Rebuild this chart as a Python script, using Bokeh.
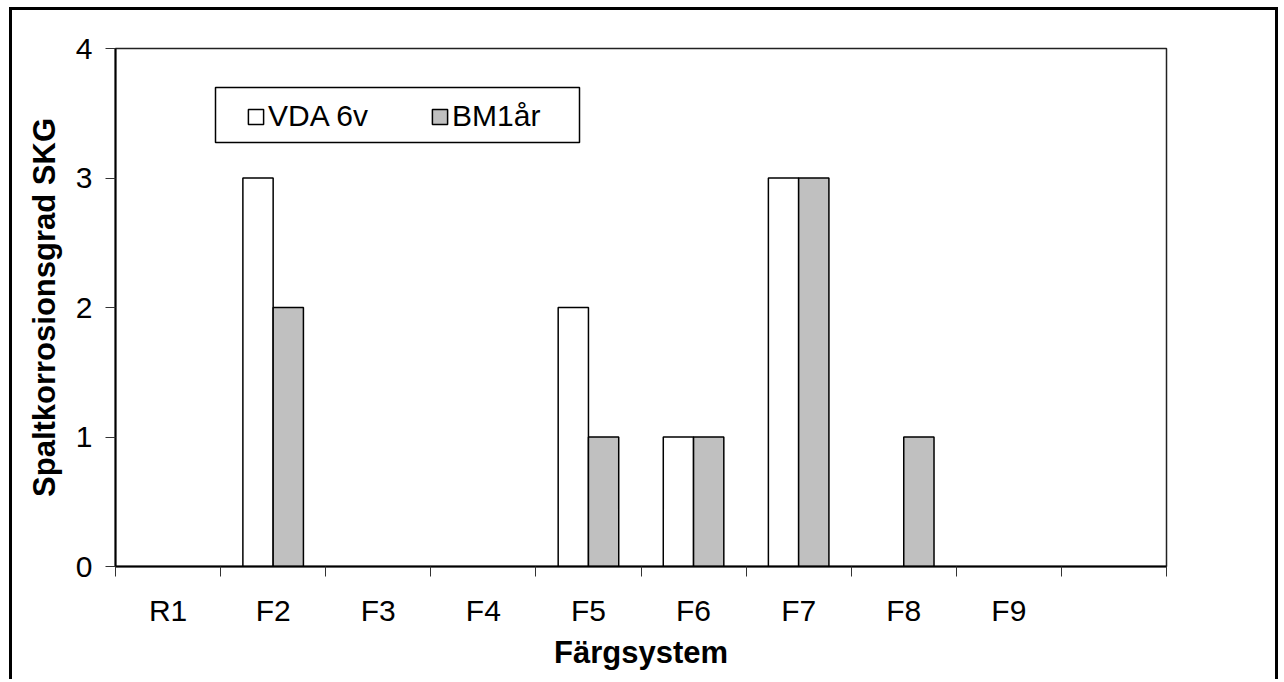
import numpy as np
from bokeh.plotting import figure
from bokeh.models import (ColumnDataSource, FixedTicker, Legend, LegendItem,
                          BoxAnnotation, Range1d, CDSView, BooleanFilter)
from bokeh.embed import file_html
from bokeh.resources import INLINE

# Paint systems and crevice-corrosion grades (SKG) for the two exposures
categories = ["R1", "F2", "F3", "F4", "F5", "F6", "F7", "F8", "F9"]
vda_6v = [0, 3, 0, 0, 2, 1, 3, 0, 0]
bm_1ar = [0, 2, 0, 0, 1, 1, 3, 1, 0]
series_names = ["VDA 6v", "BM1år"]
y_ticks = [0, 1, 2, 3, 4]
n_slots = 10          # one empty slot after F9
bar_w = 0.288         # width of one bar in slot units

FONT = "Liberation Sans"

centers = np.arange(len(categories)) + 0.5
src = ColumnDataSource(dict(
    x_vda=centers - bar_w / 2,
    x_bm=centers + bar_w / 2,
    vda=vda_6v,
    bm=bm_1ar,
))
# zero grades get no bar
view_vda = CDSView(filter=BooleanFilter([v > 0 for v in vda_6v]))
view_bm = CDSView(filter=BooleanFilter([v > 0 for v in bm_1ar]))

p = figure(width=1269, height=672, output_backend="svg", toolbar_location=None,
           x_range=Range1d(0, n_slots), y_range=Range1d(0, 4))
# chart border drawn around the whole canvas (no bottom edge)
p.styles = {"margin-left": "9px", "margin-top": "7px",
            "border-left": "3px solid black", "border-top": "3px solid black",
            "border-right": "3px solid black", "border-bottom": "0px"}
p.min_border_left = 103
p.min_border_right = 115
p.min_border_top = 38
p.min_border_bottom = 116
p.background_fill_color = "white"
p.border_fill_color = "white"
p.outline_line_color = "#222222"
p.outline_line_width = 1.5
p.xgrid.visible = False
p.ygrid.visible = False

r_vda = p.vbar(x="x_vda", top="vda", bottom=0, width=bar_w, source=src, view=view_vda,
               fill_color="white", line_color="black", line_width=1.5)
r_bm = p.vbar(x="x_bm", top="bm", bottom=0, width=bar_w, source=src, view=view_bm,
              fill_color="#C0C0C0", line_color="black", line_width=1.5)

# x axis: labels at slot centres, tick marks at slot boundaries
xax = p.xaxis[0]
xax.ticker = FixedTicker(ticks=list(centers), minor_ticks=list(range(n_slots + 1)))
xax.major_label_overrides = {float(c): lab for c, lab in zip(centers, categories)}
xax.major_tick_out = 0
xax.major_tick_in = 0
xax.minor_tick_out = 10
xax.minor_tick_in = 0
xax.minor_tick_line_color = "#333333"
xax.axis_line_color = "black"
xax.axis_line_width = 2
xax.major_label_text_font = FONT
xax.major_label_text_font_size = "30px"
xax.major_label_text_color = "black"
xax.major_label_standoff = 17
xax.axis_label = "Färgsystem"
xax.axis_label_text_font = FONT
xax.axis_label_text_font_style = "bold"
xax.axis_label_text_font_size = "31px"
xax.axis_label_text_color = "black"
xax.axis_label_standoff = 5

yax = p.yaxis[0]
yax.ticker = FixedTicker(ticks=y_ticks, minor_ticks=[])
yax.major_tick_out = 10
yax.major_tick_in = 0
yax.major_tick_line_color = "#333333"
yax.axis_line_color = "black"
yax.axis_line_width = 2
yax.major_label_text_font = FONT
yax.major_label_text_font_size = "30px"
yax.major_label_text_color = "black"
yax.major_label_standoff = 13
yax.axis_label = "Spaltkorrosionsgrad SKG"
yax.axis_label_text_font = FONT
yax.axis_label_text_font_style = "bold"
yax.axis_label_text_font_size = "31px"
yax.axis_label_text_color = "black"
yax.axis_label_standoff = 11

# legend frame
p.add_layout(BoxAnnotation(left=200, right=564, top=74, bottom=129,
                           left_units="canvas", right_units="canvas",
                           top_units="canvas", bottom_units="canvas",
                           fill_alpha=0, line_color="black", line_alpha=1,
                           line_width=1.5, level="overlay"))

legend = Legend(items=[LegendItem(label=series_names[0], renderers=[r_vda]),
                       LegendItem(label=series_names[1], renderers=[r_bm])],
                orientation="horizontal", location=(123, 425),
                padding=8, spacing=62, label_standoff=3,
                glyph_width=19, glyph_height=19,
                label_text_font=FONT, label_text_font_size="30px",
                label_text_color="black",
                background_fill_alpha=0, border_line_alpha=0)
p.add_layout(legend, "center")

open("out.html", "w").write(file_html(p, INLINE))
